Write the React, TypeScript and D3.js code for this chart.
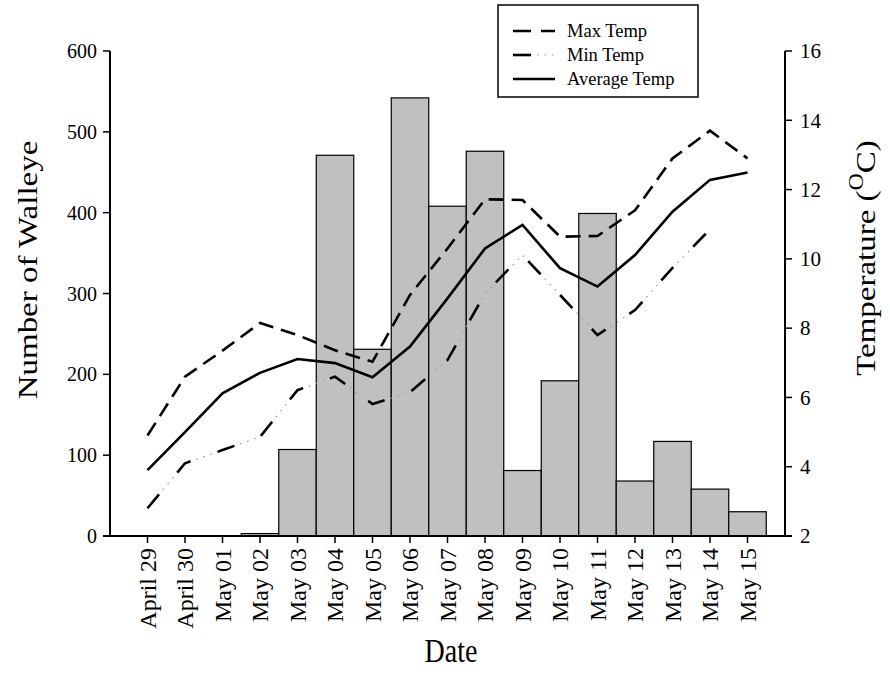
import React from "react";
import * as d3 from "d3";

const dates = ["April 29","April 30","May 01","May 02","May 03","May 04","May 05","May 06","May 07","May 08","May 09","May 10","May 11","May 12","May 13","May 14","May 15"];
const walleye = [0,0,0,3,107,471,231,542,408,476,81,192,399,68,117,58,30];
const maxTemp = [4.9,6.6,7.35,8.15,7.8,7.36,7.03,8.96,10.3,11.72,11.7,10.64,10.66,11.4,12.9,13.7,12.9];
const minTemp = [2.8,4.1,4.48,4.86,6.21,6.6,5.81,6.15,7.08,9.0,10.11,8.96,7.8,8.52,9.74,10.85,null];
const avgTemp = [3.9,5.0,6.12,6.71,7.11,6.99,6.58,7.47,8.86,10.3,10.98,9.73,9.2,10.11,11.36,12.28,12.49];
const leftTicks = [0,100,200,300,400,500,600];
const rightTicks = [2,4,6,8,10,12,14,16];
const legendItems = ["Max Temp","Min Temp","Average Temp"];

const FONT = "'Liberation Serif', 'Times New Roman', serif";

export default function App() {
  const W = 890, H = 683;
  const L = 110, R = 785, T = 51, B = 536;
  const x = d3.scaleBand<string>().domain(dates).range([L, R]).paddingOuter(0.5).paddingInner(0);
  const yL = d3.scaleLinear().domain([0, 600]).range([B, T]);
  const yR = d3.scaleLinear().domain([2, 16]).range([B, T]);
  const cx = (d: string) => (x(d) as number) + x.bandwidth() / 2;

  const lineGen = d3.line<[string, number | null]>()
    .defined((d) => d[1] !== null)
    .x((d) => cx(d[0]))
    .y((d) => yR(d[1] as number));
  const pathOf = (vals: (number | null)[]) => lineGen(dates.map((d, i) => [d, vals[i]]) as any) || "";

  const maxPath = pathOf(maxTemp);
  const minPath = pathOf(minTemp);
  const avgPath = pathOf(avgTemp);

  const minDash = "18 28.5";
  const minDots = "0 24 1.5 6 1.5 6 1.5 6";
  const SX = 0.85;

  return (
    <svg width={W} height={H} style={{ position: "absolute", left: 0, top: 0, background: "#fff" }} fontFamily={FONT}>
      <rect x={0} y={0} width={W} height={H} fill="#fff" />
      {/* bars */}
      {dates.map((d, i) => walleye[i] > 0 ? (
        <rect key={d} x={x(d)} y={yL(walleye[i])} width={x.bandwidth()} height={B - yL(walleye[i])}
          fill="#c0c0c0" stroke="#000" strokeWidth={1.2} />
      ) : null)}

      {/* lines */}
      <path d={maxPath} fill="none" stroke="#000" strokeWidth={2.6} strokeDasharray="15 8" />
      <path d={minPath} fill="none" stroke="#000" strokeWidth={2.6} strokeDasharray={minDash} />
      <path d={minPath} fill="none" stroke="#9a9a9a" strokeWidth={1.2} strokeDasharray={minDots} />
      <path d={avgPath} fill="none" stroke="#000" strokeWidth={2.6} />

      {/* left axis */}
      <line x1={L} x2={L} y1={T} y2={B} stroke="#000" strokeWidth={2} />
      {leftTicks.map((t) => (
        <g key={"l" + t}>
          <line x1={L - 7} x2={L} y1={yL(t)} y2={yL(t)} stroke="#000" strokeWidth={1.5} />
          <text x={L - 13} y={yL(t)} dy="0.35em" textAnchor="end" fontSize={20}>{t}</text>
        </g>
      ))}
      {/* right axis */}
      <line x1={R} x2={R} y1={T} y2={B} stroke="#000" strokeWidth={2} />
      {rightTicks.map((t) => (
        <g key={"r" + t}>
          <line x1={R} x2={R + 7} y1={yR(t)} y2={yR(t)} stroke="#000" strokeWidth={1.5} />
          <text x={R + 15} y={yR(t)} dy="0.35em" textAnchor="start" fontSize={21}>{t}</text>
        </g>
      ))}
      {/* bottom axis */}
      <line x1={L - 7} x2={R + 7} y1={B} y2={B} stroke="#000" strokeWidth={2} />
      {dates.map((d) => (
        <g key={"b" + d}>
          <line x1={cx(d)} x2={cx(d)} y1={B} y2={B + 7} stroke="#000" strokeWidth={1.5} />
          <text transform={`translate(${cx(d)},${B + 12}) rotate(-90)`} textAnchor="end" dominantBaseline="central" fontSize={24}>{d}</text>
        </g>
      ))}

      {/* axis titles */}
      <text transform={`translate(28,270) scale(${SX},1) rotate(-90)`} textAnchor="middle" dominantBaseline="central" fontSize={33}>Number of Walleye</text>
      <text transform={`translate(866,258) scale(${SX},1) rotate(-90)`} textAnchor="middle" dominantBaseline="central" fontSize={33}>
        Temperature (<tspan fontSize={24} dy={-12}>O</tspan><tspan dy={12}>C)</tspan>
      </text>
      <text transform={`translate(451,662) scale(${SX},1)`} textAnchor="middle" fontSize={33}>Date</text>

      {/* legend */}
      <rect x={498} y={5} width={200} height={92} fill="#fff" stroke="#000" strokeWidth={1.5} />
      {legendItems.map((name, i) => {
        const ly = 31 + i * 24;
        return (
          <g key={name}>
            {i === 0 && <line x1={513} x2={555} y1={ly} y2={ly} stroke="#000" strokeWidth={2.6} strokeDasharray="18 10" />}
            {i === 1 && <>
              <line x1={513} x2={555} y1={ly} y2={ly} stroke="#000" strokeWidth={2.6} strokeDasharray="18 40" />
              <line x1={513} x2={555} y1={ly} y2={ly} stroke="#9a9a9a" strokeWidth={1.2} strokeDasharray="0 24 1.5 6 1.5 6 1.5 6" />
            </>}
            {i === 2 && <line x1={513} x2={555} y1={ly} y2={ly} stroke="#000" strokeWidth={2.6} />}
            <text x={567} y={ly} dy="0.35em" fontSize={18.5}>{name}</text>
          </g>
        );
      })}
    </svg>
  );
}
